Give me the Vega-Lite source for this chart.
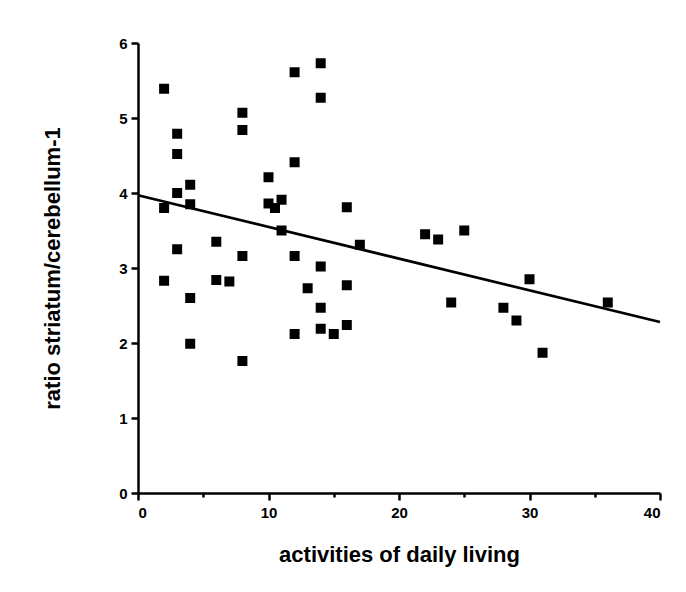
{
  "$schema": "https://vega.github.io/schema/vega-lite/v6.json",
  "width": 522,
  "height": 450,
  "autosize": {"type": "none"},
  "padding": {"left": 138, "top": 43, "right": 26, "bottom": 99},
  "background": "white",
  "config": {
    "view": {"stroke": null},
    "font": "Liberation Sans",
    "axis": {
      "domainColor": "black",
      "domainWidth": 2.5,
      "tickColor": "black",
      "tickWidth": 2.5,
      "grid": false,
      "labelFont": "Liberation Sans",
      "labelFontWeight": "bold",
      "labelFontSize": 15,
      "labelColor": "black",
      "titleFont": "Liberation Sans",
      "titleFontWeight": "bold",
      "titleFontSize": 22,
      "titleColor": "black"
    }
  },
  "datasets": {
    "points": [
      {"adl": 2, "ratio": 5.39}, {"adl": 2, "ratio": 3.80}, {"adl": 2, "ratio": 2.83},
      {"adl": 3, "ratio": 4.79}, {"adl": 3, "ratio": 4.52}, {"adl": 3, "ratio": 4.00}, {"adl": 3, "ratio": 3.25},
      {"adl": 4, "ratio": 4.11}, {"adl": 4, "ratio": 3.85}, {"adl": 4, "ratio": 2.60}, {"adl": 4, "ratio": 1.99},
      {"adl": 6, "ratio": 3.35}, {"adl": 6, "ratio": 2.84}, {"adl": 7, "ratio": 2.82},
      {"adl": 8, "ratio": 5.07}, {"adl": 8, "ratio": 4.84}, {"adl": 8, "ratio": 3.16}, {"adl": 8, "ratio": 1.76},
      {"adl": 10, "ratio": 4.21}, {"adl": 10, "ratio": 3.86}, {"adl": 10.5, "ratio": 3.80},
      {"adl": 11, "ratio": 3.91}, {"adl": 11, "ratio": 3.50},
      {"adl": 12, "ratio": 5.61}, {"adl": 12, "ratio": 4.41}, {"adl": 12, "ratio": 3.16}, {"adl": 12, "ratio": 2.12},
      {"adl": 13, "ratio": 2.73},
      {"adl": 14, "ratio": 5.73}, {"adl": 14, "ratio": 5.27}, {"adl": 14, "ratio": 3.02}, {"adl": 14, "ratio": 2.47}, {"adl": 14, "ratio": 2.19},
      {"adl": 15, "ratio": 2.12},
      {"adl": 16, "ratio": 3.81}, {"adl": 16, "ratio": 2.77}, {"adl": 16, "ratio": 2.24},
      {"adl": 17, "ratio": 3.31},
      {"adl": 22, "ratio": 3.45}, {"adl": 23, "ratio": 3.38}, {"adl": 24, "ratio": 2.54}, {"adl": 25, "ratio": 3.50},
      {"adl": 28, "ratio": 2.47}, {"adl": 29, "ratio": 2.30}, {"adl": 30, "ratio": 2.85}, {"adl": 31, "ratio": 1.87},
      {"adl": 36, "ratio": 2.54}
    ],
    "fit": [
      {"adl": 0, "ratio": 3.97},
      {"adl": 40, "ratio": 2.28}
    ]
  },
  "resolve": {"axis": {"x": "independent"}},
  "layer": [
    {
      "data": {"name": "fit"},
      "mark": {"type": "line", "color": "black", "strokeWidth": 2.8},
      "encoding": {
        "x": {
          "field": "adl", "type": "quantitative",
          "scale": {"domain": [0, 40], "nice": false},
          "axis": {"orient": "bottom", "values": [5, 15, 25, 35], "labels": false, "domain": false, "tickSize": 4, "title": null}
        },
        "y": {"field": "ratio", "type": "quantitative"}
      }
    },
    {
      "data": {"name": "points"},
      "mark": {"type": "square", "color": "black", "filled": true, "opacity": 1, "size": 100, "cornerRadius": 2},
      "encoding": {
        "x": {
          "field": "adl", "type": "quantitative",
          "scale": {"domain": [0, 40], "nice": false},
          "axis": {"orient": "bottom", "values": [0, 10, 20, 30, 40], "format": "d", "tickSize": 7, "labelPadding": 5, "title": "activities of daily living", "titlePadding": 24}
        },
        "y": {
          "field": "ratio", "type": "quantitative",
          "scale": {"domain": [0, 6], "nice": false},
          "axis": {"values": [0, 1, 2, 3, 4, 5, 6], "format": "d", "tickSize": 7, "labelPadding": 4, "title": "ratio striatum/cerebellum-1", "titlePadding": 54}
        }
      }
    }
  ]
}
